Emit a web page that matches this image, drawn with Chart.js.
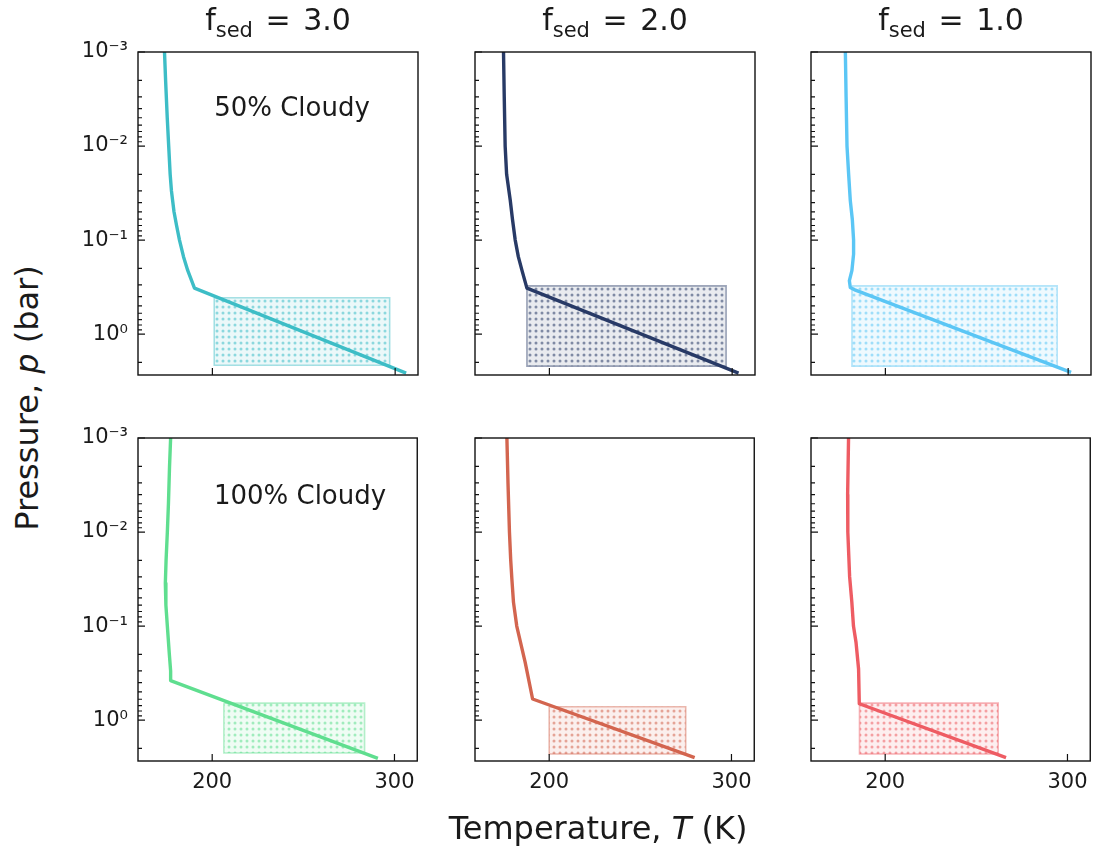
<!DOCTYPE html>
<html>
<head>
<meta charset="utf-8">
<script src="https://cdn.jsdelivr.net/npm/chart.js@4.4.0/dist/chart.umd.min.js"></script>
<style>
  body { margin: 0; background: #fff; width: 1094px; height: 853px; position: relative; overflow: hidden;
         font-family: "DejaVu Sans", sans-serif; color: #1a1a1a; }
  canvas { position: absolute; }
  .txt { position: absolute; white-space: nowrap; transform: translate(-50%, -50%); }
  .title { font-size: 30px; word-spacing: 3px; }
  .title sub { font-size: 21px; vertical-align: -7px; }
  .note { font-size: 26px; }
  .axlabel { font-size: 32px; }
</style>
</head>
<body>
<script>
// axis limits and ticks
const tempRange = [159.3, 312.5];
const pressureRange = [0.001, 2.72];
const xTicks = [200, 300];
const yDecades = [0.001, 0.01, 0.1, 1];
const yDecadeLabels = ['10⁻³', '10⁻²', '10⁻¹', '10⁰'];
const fsedValues = ['3.0', '2.0', '1.0'];
const cloudLabels = ['50% Cloudy', '100% Cloudy'];

// 50% cloudy profiles (T in K, p in bar)
const half_f3_T = [173.8, 174.4, 175.3, 176.1, 176.9, 177.6, 179.0, 180.4, 182.0, 184.2, 186.5, 190.2, 306.0];
const half_f3_p = [0.001, 0.002, 0.005, 0.01, 0.02, 0.03, 0.05, 0.07, 0.1, 0.15, 0.21, 0.324, 2.6];
const half_f2_T = [174.9, 175.3, 175.8, 176.6, 178.6, 179.8, 181.3, 183.0, 185.0, 187.7, 303.5];
const half_f2_p = [0.001, 0.003, 0.01, 0.02, 0.038, 0.06, 0.1, 0.15, 0.21, 0.324, 2.6];
const half_f1_T = [178.1, 178.5, 179.0, 179.9, 180.8, 181.9, 182.6, 182.6, 181.7, 180.3, 180.8, 183.6, 301.6];
const half_f1_p = [0.001, 0.003, 0.01, 0.02, 0.038, 0.06, 0.1, 0.141, 0.21, 0.27, 0.319, 0.341, 2.55];

// 100% cloudy profiles
const full_f3_T = [177.2, 176.6, 176.0, 175.4, 174.7, 174.3, 174.6, 175.4, 176.5, 177.2, 177.2, 290.9];
const full_f3_p = [0.001, 0.002, 0.005, 0.01, 0.02, 0.035, 0.06, 0.1, 0.2, 0.3, 0.38, 2.55];
const full_f2_T = [176.8, 177.4, 178.2, 178.9, 179.5, 180.4, 182.2, 186.8, 190.9, 279.8];
const full_f2_p = [0.001, 0.003, 0.01, 0.02, 0.031, 0.0556, 0.1, 0.242, 0.596, 2.5];
const full_f1_T = [179.9, 179.4, 179.5, 180.5, 181.7, 182.6, 184.0, 185.4, 185.8, 266.3];
const full_f1_p = [0.001, 0.004, 0.01, 0.03, 0.0556, 0.1, 0.149, 0.286, 0.67, 2.5];

// cloud decks [T left, T right], [p top, p base]
const deck_half_f3_T = [201.0, 297.0], deck_half_f3_p = [0.41, 2.14];
const deck_half_f2_T = [187.7, 296.7], deck_half_f2_p = [0.307, 2.19];
const deck_half_f1_T = [181.7, 294.0], deck_half_f1_p = [0.307, 2.19];
const deck_full_f3_T = [206.4, 283.6], deck_full_f3_p = [0.66, 2.24];
const deck_full_f2_T = [200.0, 274.9], deck_full_f2_p = [0.72, 2.29];
const deck_full_f1_T = [185.9, 262.0], deck_full_f1_p = [0.66, 2.29];

const panels = [
  { row: 0, col: 0, T: half_f3_T, p: half_f3_p, dT: deck_half_f3_T, dp: deck_half_f3_p, color: [61, 189, 198] },
  { row: 0, col: 1, T: half_f2_T, p: half_f2_p, dT: deck_half_f2_T, dp: deck_half_f2_p, color: [40, 58, 102] },
  { row: 0, col: 2, T: half_f1_T, p: half_f1_p, dT: deck_half_f1_T, dp: deck_half_f1_p, color: [91, 198, 245] },
  { row: 1, col: 0, T: full_f3_T, p: full_f3_p, dT: deck_full_f3_T, dp: deck_full_f3_p, color: [95, 222, 143] },
  { row: 1, col: 1, T: full_f2_T, p: full_f2_p, dT: deck_full_f2_T, dp: deck_full_f2_p, color: [211, 101, 79] },
  { row: 1, col: 2, T: full_f1_T, p: full_f1_p, dT: deck_full_f1_T, dp: deck_full_f1_p, color: [238, 92, 99] }
];

// layout of the plot areas
const colLeft = [138, 475, 811];
const rowTop = [52, 438];
const plotW = 280, plotH = 323;
const yAxisW = 80, xAxisH = 40, padTop = 30, padRight = 6;

function rgba(c, a) { return `rgba(${c[0]},${c[1]},${c[2]},${a})`; }

function hatch(c) {
  const cv = document.createElement('canvas');
  cv.width = 6; cv.height = 6;
  const g = cv.getContext('2d');
  g.fillStyle = rgba(c, 0.1);
  g.fillRect(0, 0, 6, 6);
  g.fillStyle = rgba(c, 0.55);
  g.beginPath(); g.arc(3, 3, 1.5, 0, Math.PI * 2); g.fill();
  return g.createPattern(cv, 'repeat');
}

function yTickList() {
  const out = [];
  for (let e = -3; e <= 0; e++) {
    for (let m = 1; m <= 9; m++) {
      const v = m * Math.pow(10, e);
      if (v >= pressureRange[0] - 1e-12 && v <= pressureRange[1]) out.push({ value: v, major: m === 1 });
    }
  }
  return out;
}

// frame and inward ticks, matplotlib style
const frameTicks = {
  id: 'frameTicks',
  afterDraw(chart) {
    const { ctx, chartArea: a, scales: { x, y } } = chart;
    ctx.save();
    ctx.strokeStyle = '#111';
    ctx.lineWidth = 1.4;
    ctx.strokeRect(a.left, a.top, a.right - a.left, a.bottom - a.top);
    ctx.lineWidth = 1.2;
    ctx.beginPath();
    x.ticks.forEach(t => {
      const px = x.getPixelForValue(t.value);
      ctx.moveTo(px, a.bottom); ctx.lineTo(px, a.bottom - 7);
    });
    y.ticks.forEach(t => {
      const py = y.getPixelForValue(t.value);
      ctx.moveTo(a.left, py); ctx.lineTo(a.left + (t.major ? 7 : 4), py);
    });
    ctx.stroke();
    ctx.restore();
  }
};

const tickFont = { family: 'DejaVu Sans', size: 21 };

panels.forEach(pn => {
  const cv = document.createElement('canvas');
  const w = yAxisW + plotW + padRight, h = padTop + plotH + xAxisH;
  cv.width = w; cv.height = h;
  cv.style.left = (colLeft[pn.col] - yAxisW) + 'px';
  cv.style.top = (rowTop[pn.row] - padTop) + 'px';
  document.body.appendChild(cv);

  const profile = pn.T.map((t, i) => ({ x: t, y: pn.p[i] }));
  const deckTop = [{ x: pn.dT[0], y: pn.dp[0] }, { x: pn.dT[1], y: pn.dp[0] }];
  const deckBase = [{ x: pn.dT[0], y: pn.dp[1] }, { x: pn.dT[1], y: pn.dp[1] }];
  const deckEdge = [
    { x: pn.dT[0], y: pn.dp[0] }, { x: pn.dT[1], y: pn.dp[0] },
    { x: pn.dT[1], y: pn.dp[1] }, { x: pn.dT[0], y: pn.dp[1] },
    { x: pn.dT[0], y: pn.dp[0] }
  ];

  new Chart(cv, {
    type: 'line',
    data: {
      datasets: [
        { data: profile, borderColor: rgba(pn.color, 1), borderWidth: 3.4, pointRadius: 0,
          tension: 0, borderJoinStyle: 'round', fill: false },
        { data: deckTop, borderWidth: 0, pointRadius: 0, fill: '+1', backgroundColor: hatch(pn.color) },
        { data: deckBase, borderWidth: 0, pointRadius: 0, fill: false },
        { data: deckEdge, borderColor: rgba(pn.color, 0.45), borderWidth: 1.6, pointRadius: 0, fill: false }
      ]
    },
    options: {
      responsive: false,
      animation: false,
      devicePixelRatio: 1,
      layout: { padding: { top: padTop, right: padRight, left: 0, bottom: 0 } },
      plugins: { legend: { display: false }, tooltip: { enabled: false } },
      scales: {
        x: {
          type: 'linear', min: tempRange[0], max: tempRange[1],
          afterBuildTicks: s => { s.ticks = xTicks.map(v => ({ value: v })); },
          afterFit: s => { s.height = xAxisH; },
          grid: { display: false, drawTicks: false },
          border: { display: false },
          ticks: { display: pn.row === 1, autoSkip: false, maxRotation: 0, padding: 9,
                   font: tickFont, color: '#1a1a1a', callback: v => String(v) }
        },
        y: {
          type: 'logarithmic', reverse: true, min: pressureRange[0], max: pressureRange[1],
          afterBuildTicks: s => { s.ticks = yTickList(); },
          afterFit: s => { s.width = yAxisW; },
          grid: { display: false, drawTicks: false },
          border: { display: false },
          ticks: {
            autoSkip: false, padding: 10, font: tickFont, color: '#1a1a1a',
            callback: (v) => {
              if (pn.col !== 0) return '';
              const k = yDecades.findIndex(d => Math.abs(d - v) < d * 1e-6);
              return k >= 0 ? yDecadeLabels[k] : '';
            }
          }
        }
      }
    },
    plugins: [frameTicks]
  });
});

function addText(cls, html, x, y, rotate) {
  const d = document.createElement('div');
  d.className = 'txt ' + cls;
  d.innerHTML = html;
  d.style.left = x + 'px';
  d.style.top = y + 'px';
  if (rotate) d.style.transform = 'translate(-50%, -50%) rotate(-90deg)';
  document.body.appendChild(d);
}

fsedValues.forEach((f, i) => {
  addText('title', `f<sub>sed</sub> = ${f}`, colLeft[i] + plotW / 2, 22);
});
addText('note', cloudLabels[0], 292, 107);
addText('note', cloudLabels[1], 300, 495);
addText('axlabel', 'Temperature, <i>T</i> (K)', 598, 828);
addText('axlabel', 'Pressure, <i>p</i> (bar)', 27, 398, true);
</script>
</body>
</html>
